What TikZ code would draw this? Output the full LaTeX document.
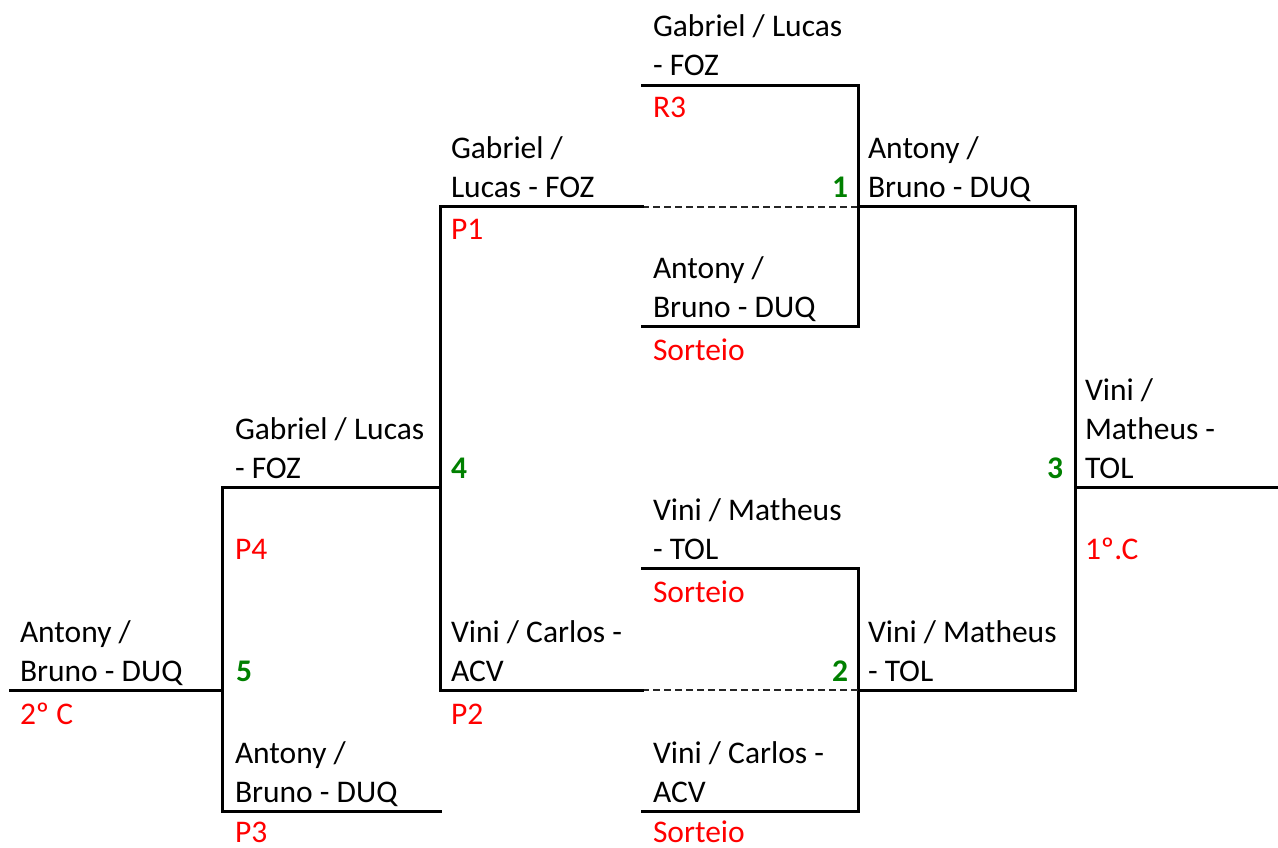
\documentclass[tikz,border=0pt]{standalone}
\usepackage{fontspec}
\setmainfont{Carlito}
\definecolor{winred}{RGB}{255,0,0}
\definecolor{wingreen}{RGB}{0,128,0}
\begin{document}
\begin{tikzpicture}[x=1pt,y=-1pt,
  every node/.style={inner sep=0pt, outer sep=0pt, font=\fontsize{31.5}{39}\selectfont},
  team/.style={anchor=base west, align=left, text=black},
  tag/.style={anchor=base west, text=winred},
  numr/.style={anchor=base east, text=wingreen, font=\fontsize{31.5}{39}\selectfont\bfseries},
  numl/.style={anchor=base west, text=wingreen, font=\fontsize{31.5}{39}\selectfont\bfseries},
  wire/.style={line width=3pt, line cap=rect},
  dwire/.style={line width=2.4pt, dash pattern=on 7pt off 4pt, black!85}]
\useasboundingbox (0,0) rectangle (1278,848);
% coordinates
\coordinate (r3a) at (642,86);
\coordinate (r3b) at (858,86);
\coordinate (q1) at (858,207);
\coordinate (sa) at (642,326);
\coordinate (sb) at (858,326);
\coordinate (p1a) at (440,207);
\coordinate (p1m) at (642,207);
\coordinate (f1) at (1075,207);
\coordinate (f3) at (1075,487);
\coordinate (f2) at (1075,690);
\coordinate (out) at (1278,487);
\coordinate (ta) at (642,568);
\coordinate (tb) at (858,568);
\coordinate (q2) at (858,690);
\coordinate (ua) at (642,811);
\coordinate (ub) at (858,811);
\coordinate (p2a) at (440,690);
\coordinate (p2m) at (642,690);
\coordinate (s4) at (440,487);
\coordinate (s4a) at (222,487);
\coordinate (s5) at (222,690);
\coordinate (s5out) at (10,690);
\coordinate (p3a) at (222,811);
\coordinate (p3b) at (440,811);
% lines
\draw[wire] (r3a) -- (r3b) -- (sb) -- (sa);
\draw[dwire] (p1m) -- (q1);
\draw[wire] (p1a) -- (p1m);
\draw[wire] (q1) -- (f1) -- (f2) -- (q2);
\draw[wire] (f3) -- (out);
\draw[wire] (ta) -- (tb) -- (ub) -- (ua);
\draw[dwire] (p2m) -- (q2);
\draw[wire] (p2a) -- (p2m);
\draw[wire] (p1a) -- (p2a);
\draw[wire] (s4) -- (s4a) -- (p3a) -- (p3b);
\draw[wire] (s5) -- (s5out);
% texts
\node[team] (t1) at (653,76) {Gabriel / Lucas\\- FOZ};
\node[tag] (l1) at (653,118) {R3};
\node[team] (t2) at (451,197) {Gabriel /\\Lucas - FOZ};
\node[tag] (l2) at (451,239) {P1};
\node[numr] (n1) at (848,197) {1};
\node[team] (t3) at (868,197) {Antony /\\Bruno - DUQ};
\node[team] (t4) at (653,317) {Antony /\\Bruno - DUQ};
\node[tag] (l4) at (653,360) {Sorteio};
\node[team] (t5) at (1085,478) {Vini /\\Matheus -\\TOL};
\node[numr] (n3) at (1063,478) {3};
\node[tag] (l5) at (1085,559) {1º.C};
\node[team] (t6) at (235,478) {Gabriel / Lucas\\- FOZ};
\node[numl] (n4) at (451,478) {4};
\node[tag] (l6) at (235,559) {P4};
\node[team] (t7) at (653,559) {Vini / Matheus\\- TOL};
\node[tag] (l7) at (653,602) {Sorteio};
\node[team] (t8) at (451,681) {Vini / Carlos -\\ACV};
\node[tag] (l8) at (451,724) {P2};
\node[numr] (n2) at (848,681) {2};
\node[team] (t9) at (868,681) {Vini / Matheus\\- TOL};
\node[team] (t10) at (20,681) {Antony /\\Bruno - DUQ};
\node[tag] (l10) at (20,724) {2º C};
\node[numl] (n5) at (236,681) {5};
\node[team] (t11) at (235,802) {Antony /\\Bruno - DUQ};
\node[tag] (l11) at (235,842) {P3};
\node[team] (t12) at (653,802) {Vini / Carlos -\\ACV};
\node[tag] (l12) at (653,842) {Sorteio};
\end{tikzpicture}
\end{document}
